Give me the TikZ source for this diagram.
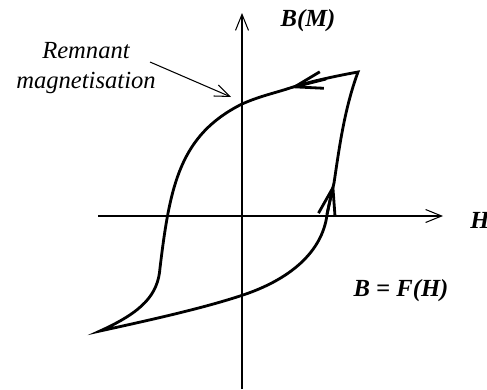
\documentclass[tikz,border=0pt]{standalone}
\usepackage{fontspec}
\setmainfont{Liberation Serif}
\usetikzlibrary{arrows.meta}

\begin{document}
\begin{tikzpicture}[
    x=0.02cm, y=-0.02cm,
    axis/.style={line width=0.6pt, -{Straight Barb[length=3.2mm,width=2.6mm]}},
    pointer/.style={line width=0.6pt, -{Straight Barb[length=3mm,width=2.4mm]}},
    loopline/.style={line width=1.6pt},
    looptip/.style={line width=1.6pt, -{Straight Barb[length=5.6mm,width=3.4mm]}},
    label/.style={inner sep=0pt, font=\fontsize{14}{17}\selectfont\itshape, align=center},
    boldlabel/.style={inner sep=0pt, font=\fontsize{14}{17}\selectfont\bfseries\itshape}
]
\useasboundingbox (0,0) rectangle (487,389);

% Axes
\coordinate (hstart) at (98,216);
\coordinate (hend) at (443,216);
\coordinate (vstart) at (242,389);
\coordinate (vend) at (242,13);
\draw[axis] (hstart) -- (hend);
\draw[axis] (vstart) -- (vend);

% Loop points
\coordinate (tipR) at (358,72);
\coordinate (tipL) at (100,331);
\coordinate (arrTop) at (290,88);
\coordinate (arrUp) at (334,183);
\coordinate (remM) at (242,104);
\coordinate (coerL) at (160,268);
\coordinate (cutB) at (240,296);
\coordinate (coerR) at (327,215);

% Hysteresis loop
\draw[loopline] (arrUp) .. controls (339,150) and (344,110) .. (tipR)
    .. controls (330,77) and (305,83) .. (arrTop)
    .. controls (275,93) and (260,96) .. (remM)
    .. controls (180,135) and (170,185) .. (coerL)
    .. controls (158,295) and (142,312) .. (tipL)
    .. controls (150,320) and (200,309) .. (cutB)
    .. controls (290,280) and (322,252) .. (coerR)
    .. controls (329,205) and (331,195) .. (arrUp);

% Direction arrows
\coordinate (arrTopBack) at (326,79);
\coordinate (arrUpBack) at (327,214);
\draw[looptip] (arrTopBack) -- (arrTop);
\draw[looptip] (arrUpBack) -- (arrUp);

% Labels
\node[label] (remnant) at (86,68) {Remnant\\magnetisation};
\node[boldlabel] (bm) at (308,21) {B(M)};
\node[boldlabel, anchor=west] (hlabel) at (470,220) {H};
\node[boldlabel] (law) at (401,291) {B = F(H)};

\coordinate (remFrom) at (150,62);
\coordinate (remTo) at (231,97);
\draw[pointer] (remFrom) -- (remTo);

\end{tikzpicture}
\end{document}
